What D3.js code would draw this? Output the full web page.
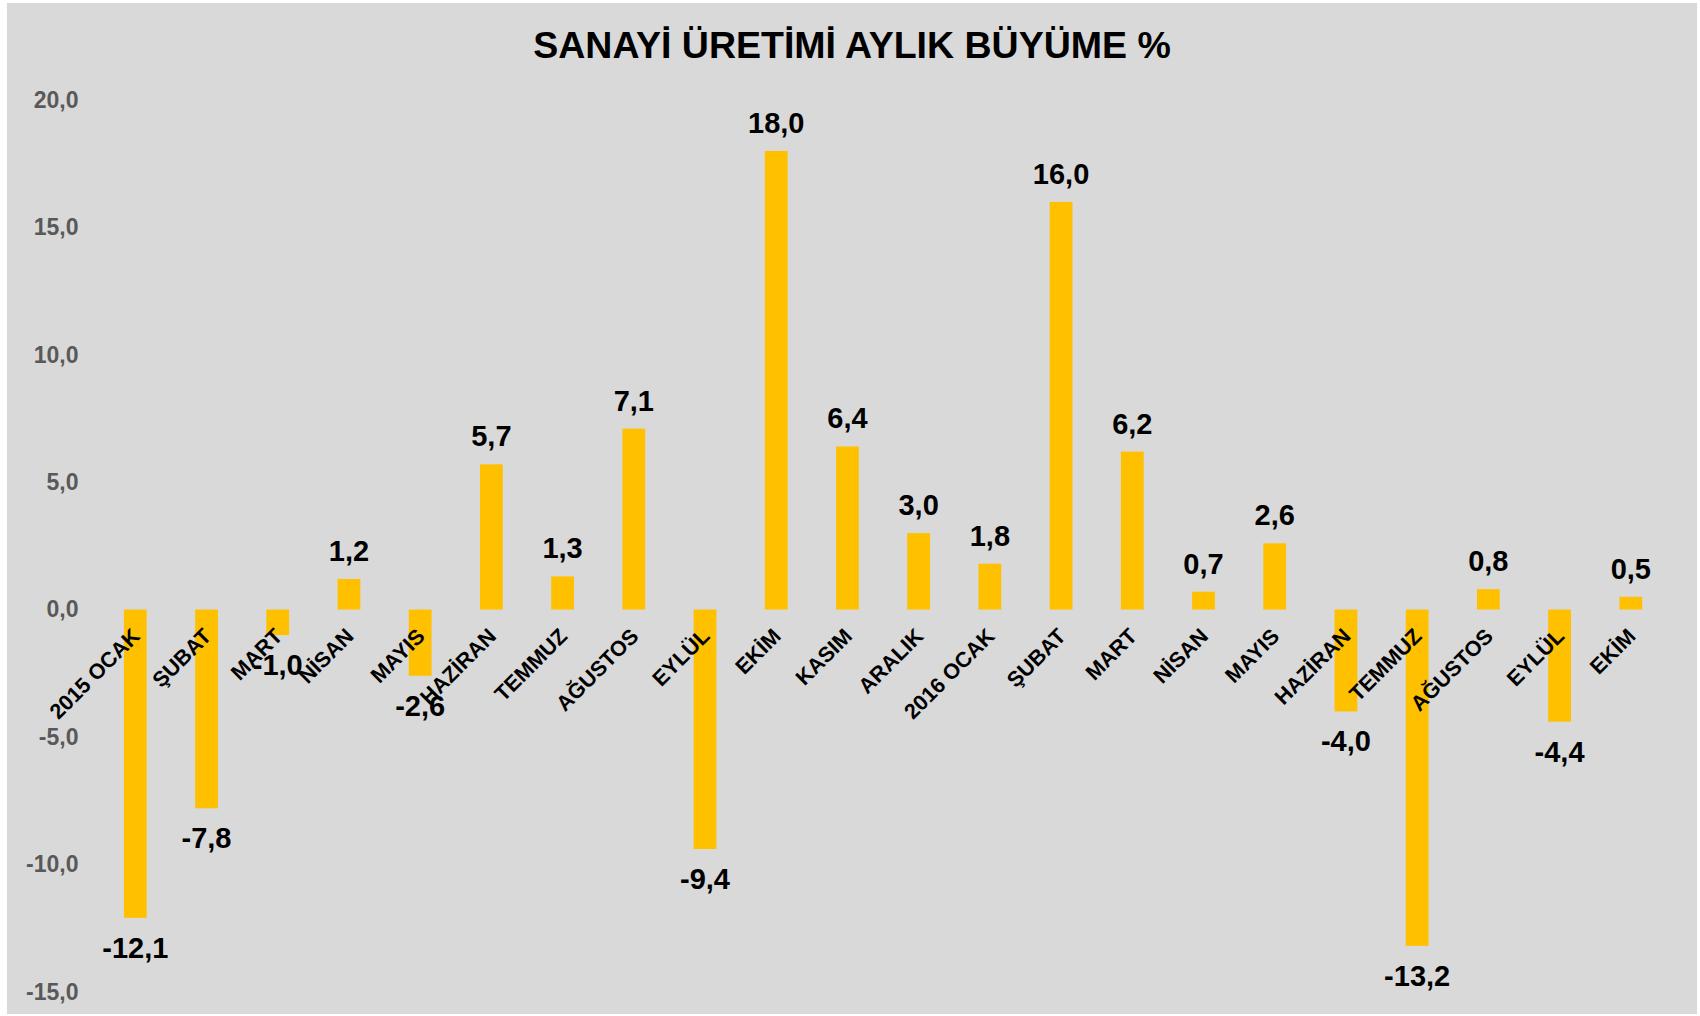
<!DOCTYPE html>
<html>
<head>
<meta charset="utf-8">
<script src="https://cdn.jsdelivr.net/npm/d3@7"></script>
<style>
  body { margin: 0; background: #fff; }
  text { font-family: "Liberation Sans", Arial, sans-serif; font-weight: bold; }
</style>
</head>
<body>
<div id="chart"></div>
<script>
// aylar (tekrar eden isimler var, o yüzden index ile çiziyoruz)
const months = ["2015 OCAK", "ŞUBAT", "MART", "NİSAN", "MAYIS", "HAZİRAN", "TEMMUZ", "AĞUSTOS",
  "EYLÜL", "EKİM", "KASIM", "ARALIK", "2016 OCAK", "ŞUBAT", "MART", "NİSAN", "MAYIS",
  "HAZİRAN", "TEMMUZ", "AĞUSTOS", "EYLÜL", "EKİM"];
const growth = [-12.1, -7.8, -1.0, 1.2, -2.6, 5.7, 1.3, 7.1, -9.4, 18.0, 6.4, 3.0,
  1.8, 16.0, 6.2, 0.7, 2.6, -4.0, -13.2, 0.8, -4.4, 0.5];
const yTicks = [-15, -10, -5, 0, 5, 10, 15, 20];
const title = "SANAYİ ÜRETİMİ AYLIK BÜYÜME %";

const W = 1700, H = 1016;

// virgüllü ondalık, normal tire
const trLocale = d3.formatLocale({ decimal: ",", thousands: ".", grouping: [3], currency: ["", " TL"], minus: "-" });
const fmt = trLocale.format(".1f");

const svg = d3.select("#chart").append("svg")
  .attr("width", W)
  .attr("height", H);

// gri zemin
svg.append("rect")
  .attr("x", 7).attr("y", 3)
  .attr("width", 1690).attr("height", 1011)
  .attr("fill", "#d9d9d9");

svg.append("text")
  .attr("x", 852).attr("y", 58)
  .attr("text-anchor", "middle")
  .style("font-size", "37.5px")
  .attr("fill", "#000")
  .text(title);

const x = d3.scaleBand()
  .domain(d3.range(months.length))
  .range([99.7, 1666.4])
  .paddingInner(0.68)
  .paddingOuter(0.34);

const y = d3.scaleLinear()
  .domain([-15, 20])
  .range([991.7, 100]);

// y ekseni - çizgi yok, sadece etiketler
const yAxis = d3.axisLeft(y)
  .tickValues(yTicks)
  .tickSize(0)
  .tickPadding(0)
  .tickFormat(fmt);

const yG = svg.append("g")
  .attr("transform", "translate(78.5,0)")
  .call(yAxis);
yG.select(".domain").remove();
yG.selectAll("text")
  .style("font-size", "23px")
  .style("font-family", "\"Liberation Sans\", Arial, sans-serif")
  .style("font-weight", "bold")
  .attr("fill", "#595959");

const idx = d3.range(growth.length);

svg.append("g").selectAll("rect")
  .data(idx)
  .join("rect")
  .attr("x", i => x(i))
  .attr("width", x.bandwidth())
  .attr("y", i => y(Math.max(0, growth[i])))
  .attr("height", i => Math.abs(y(growth[i]) - y(0)))
  .attr("fill", "#ffc000");

// kategori etiketleri, 45 derece
const x0 = y(0);
svg.append("g").selectAll("text")
  .data(idx)
  .join("text")
  .attr("transform", i => `translate(${x(i) + x.bandwidth() / 2 + 6},${x0 + 28}) rotate(-45)`)
  .attr("text-anchor", "end")
  .style("font-size", "21.5px")
  .attr("fill", "#000")
  .text(i => months[i]);

// değer etiketleri
svg.append("g").selectAll("text")
  .data(idx)
  .join("text")
  .attr("x", i => x(i) + x.bandwidth() / 2)
  .attr("y", i => growth[i] >= 0 ? y(growth[i]) - 18 : y(growth[i]) + 40)
  .attr("text-anchor", "middle")
  .style("font-size", "29px")
  .attr("fill", "#000")
  .text(i => fmt(growth[i]));
</script>
</body>
</html>
